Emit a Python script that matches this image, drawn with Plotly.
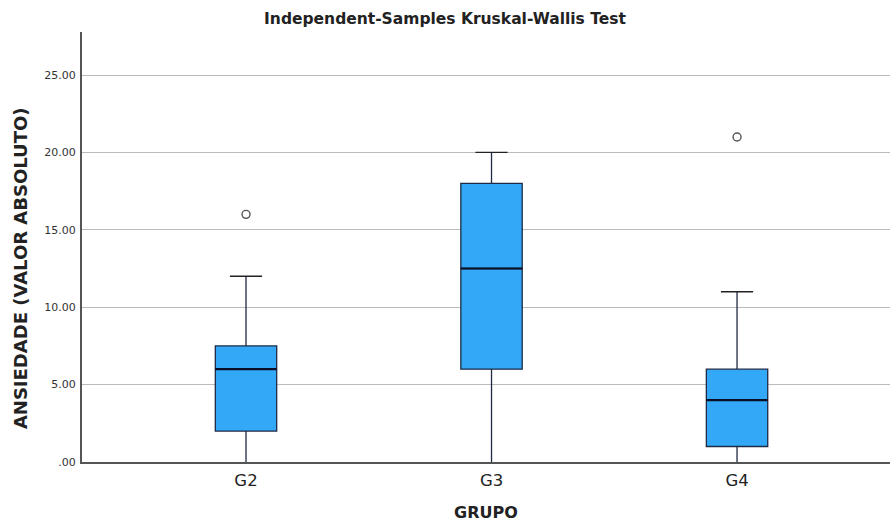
import plotly.graph_objects as go

groups = ["G2", "G3", "G4"]
lower_fence = [0, 0, 0]
q1 = [2, 6, 1]
median = [6, 12.5, 4]
q3 = [7.5, 18, 6]
upper_fence = [12, 20, 11]
outlier_groups = ["G2", "G4"]
outlier_values = [16, 21]
y_ticks = [0, 5, 10, 15, 20, 25]
y_tick_labels = [".00", "5.00", "10.00", "15.00", "20.00", "25.00"]

fill = "#33A8F6"
edge = "#1F2A44"

fig = go.Figure()
fig.add_trace(go.Box(
    x=groups, q1=q1, median=median, q3=q3,
    lowerfence=lower_fence, upperfence=upper_fence,
    fillcolor=fill, line=dict(color=edge, width=1.3),
    whiskerwidth=0, width=0.25, boxpoints=False, showlegend=False,
))
# whisker caps
fig.add_trace(go.Scatter(
    x=groups, y=upper_fence, mode="markers",
    marker=dict(symbol="line-ew", size=23, line=dict(color="#222222", width=1.3)),
    showlegend=False, hoverinfo="skip",
))
# median lines (thicker)
fig.add_trace(go.Scatter(
    x=groups, y=median, mode="markers",
    marker=dict(symbol="line-ew", size=44, line=dict(color="#0A0F25", width=2.2)),
    showlegend=False, hoverinfo="skip",
))
# outliers
fig.add_trace(go.Scatter(
    x=outlier_groups, y=outlier_values, mode="markers",
    marker=dict(symbol="circle-open", size=8, color="#555555", line=dict(width=1.4)),
    showlegend=False,
))

fig.update_layout(
    width=890, height=524,
    margin=dict(l=82, r=0, t=32, b=62),
    paper_bgcolor="white", plot_bgcolor="white",
    font=dict(family="DejaVu Sans", color="#222222"),
    title=dict(text="<b>Independent-Samples Kruskal-Wallis Test</b>",
               x=0.5, xanchor="center", y=0.965, yanchor="middle",
               font=dict(size=15.5, color="#222222")),
    annotations=[dict(
        text="<b>ANSIEDADE (VALOR ABSOLUTO)</b>", textangle=-90,
        xref="paper", yref="paper", x=-0.076, y=0.45,
        xanchor="center", yanchor="middle", showarrow=False,
        font=dict(size=18, color="#222222"),
    )],
)
fig.update_xaxes(
    type="category", range=[-0.668, 2.623],
    showline=True, linecolor="#555555", linewidth=2,
    showgrid=False, ticks="", ticklabelstandoff=2,
    tickfont=dict(size=16.5, color="#222222"),
    title=dict(text="<b>GRUPO</b>", font=dict(size=16, color="#222222"), standoff=18),
)
fig.update_yaxes(
    range=[0, 27.78], tickvals=y_ticks, ticktext=y_tick_labels,
    showline=True, linecolor="#555555", linewidth=2,
    showgrid=True, gridcolor="#BBBBBB", gridwidth=1,
    zeroline=False, tickfont=dict(size=11, color="#333333"),
    ticks="", ticklabelstandoff=2,
)

fig.write_html("out.html")
